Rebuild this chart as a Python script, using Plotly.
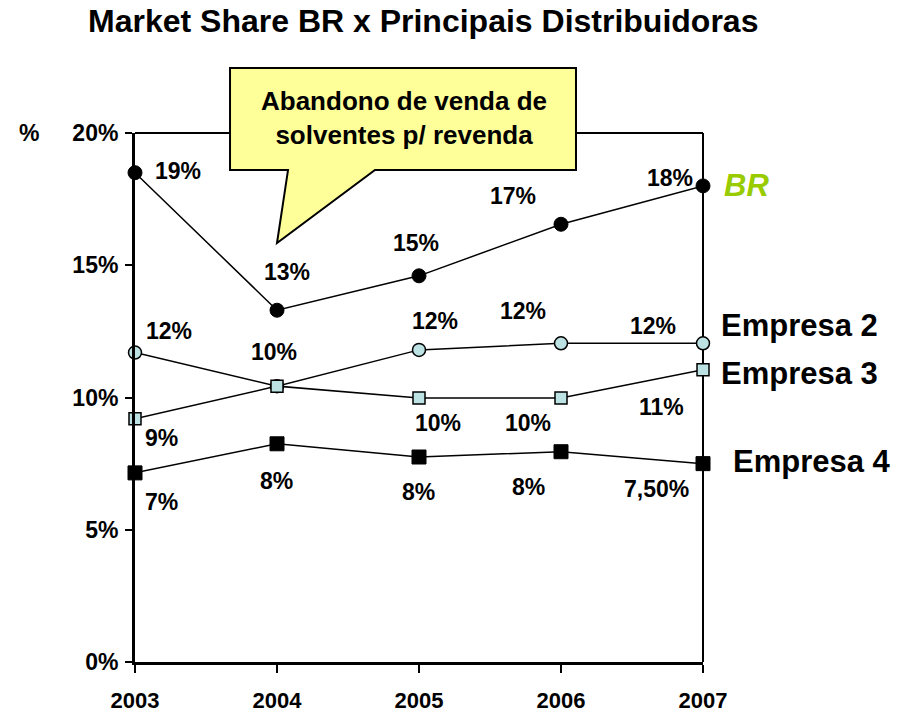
import plotly.graph_objects as go

# ---------------- data ----------------
years = [2003, 2004, 2005, 2006, 2007]
year_labels = ["2003", "2004", "2005", "2006", "2007"]

br = [18.5, 13.3, 14.6, 16.55, 18.0]
emp2 = [11.7, 10.43, 11.8, 12.05, 12.05]
emp3 = [9.2, 10.43, 9.98, 9.98, 11.05]
emp4 = [7.15, 8.25, 7.75, 7.95, 7.5]

br_labels = ["19%", "13%", "15%", "17%", "18%"]
emp2_labels = ["12%", "10%", "12%", "12%", "12%"]
emp3_labels = ["9%", "", "10%", "10%", "11%"]
emp4_labels = ["7%", "8%", "8%", "8%", "7,50%"]

y_ticks = [0, 5, 10, 15, 20]
y_tick_labels = ["0%", "5%", "10%", "15%", "20%"]

series_names = ["BR", "Empresa 2", "Empresa 3", "Empresa 4"]
title_text = "Market Share BR x Principais Distribuidoras"
callout_text = "Abandono de venda de<br>solventes p/ revenda"

# ---------------- style ----------------
FONT = "Liberation Sans, Arial, sans-serif"
LIGHT = "#BCE2E3"
GREEN = "#99CC00"
YELLOW = "#FFFF99"

# label offsets in pixels (dx right, dy down) relative to each point
offsets = {
    "BR": [(43, -2), (10, -38), (-3, -33), (-48, -28), (-33, -8)],
    "Empresa 2": [(34, -22), (-3, -34), (16, -29), (-38, -32), (-50, -17)],
    "Empresa 3": [(26, 19), (0, 0), (19, 25), (-33, 25), (-42, 37)],
    "Empresa 4": [(26, 29), (-1, 37), (-1, 35), (-33, 35), (-47, 25)],
}

fig = go.Figure()

line_style = dict(color="black", width=1.5)
fig.add_trace(go.Scatter(
    x=years, y=emp2, mode="lines+markers", name="Empresa 2", line=line_style,
    marker=dict(symbol="circle", size=13, color=LIGHT, line=dict(color="black", width=1.5)),
    cliponaxis=False, showlegend=False))
fig.add_trace(go.Scatter(
    x=years, y=emp3, mode="lines+markers", name="Empresa 3", line=line_style,
    marker=dict(symbol="square", size=12, color=LIGHT, line=dict(color="black", width=1.5)),
    cliponaxis=False, showlegend=False))
fig.add_trace(go.Scatter(
    x=years, y=emp4, mode="lines+markers", name="Empresa 4", line=line_style,
    marker=dict(symbol="square", size=14, color="black", line=dict(color="black", width=1)),
    cliponaxis=False, showlegend=False))
fig.add_trace(go.Scatter(
    x=years, y=br, mode="lines+markers", name="BR", line=line_style,
    marker=dict(symbol="circle", size=14, color="black", line=dict(color="black", width=1)),
    cliponaxis=False, showlegend=False))

annotations = []
lab_font = dict(family=FONT, size=23, color="black", weight="bold")
for name, vals, labs in [("BR", br, br_labels), ("Empresa 2", emp2, emp2_labels),
                         ("Empresa 3", emp3, emp3_labels), ("Empresa 4", emp4, emp4_labels)]:
    for i, (xv, yv, t) in enumerate(zip(years, vals, labs)):
        if not t:
            continue
        dx, dy = offsets[name][i]
        annotations.append(dict(x=xv, y=yv, xref="x", yref="y", text=t, showarrow=False,
                                xshift=dx, yshift=-dy, xanchor="center", yanchor="middle",
                                font=lab_font))

# series end labels
end_font = dict(family=FONT, size=31, color="black", weight="bold")
annotations.append(dict(x=years[-1], y=br[-1], text="<i>" + series_names[0] + "</i>", showarrow=False,
                        xanchor="left", yanchor="middle", xshift=19, yshift=0,
                        font=dict(family=FONT, size=31, color=GREEN, weight="bold")))
annotations.append(dict(x=years[-1], y=emp2[-1], text=series_names[1], showarrow=False,
                        xanchor="left", yanchor="middle", xshift=16, yshift=18, font=end_font))
annotations.append(dict(x=years[-1], y=emp3[-1], text=series_names[2], showarrow=False,
                        xanchor="left", yanchor="middle", xshift=16, yshift=-4, font=end_font))
annotations.append(dict(x=years[-1], y=emp4[-1], text=series_names[3], showarrow=False,
                        xanchor="left", yanchor="middle", xshift=28, yshift=2, font=end_font))

# title
annotations.append(dict(x=0.5079, y=1.2117, xref="paper", yref="paper", text=title_text,
                        showarrow=False, xanchor="center", yanchor="middle",
                        font=dict(family=FONT, size=32, color="black", weight="bold")))
# % unit
annotations.append(dict(x=-0.1866, y=1.0, xref="paper", yref="paper", text="%",
                        showarrow=False, xanchor="center", yanchor="middle",
                        font=dict(family=FONT, size=23, color="black", weight="bold")))
# callout text
annotations.append(dict(x=0.4736, y=1.0285, xref="paper", yref="paper", text=callout_text,
                        showarrow=False, xanchor="center", yanchor="middle", align="center",
                        font=dict(family=FONT, size=26, color="black", weight="bold")))

shapes = [
    # thin top and right borders of plot area
    dict(type="line", xref="paper", yref="paper", x0=0, x1=1, y0=1, y1=1,
         line=dict(color="black", width=2), layer="below"),
    dict(type="line", xref="paper", yref="paper", x0=1, x1=1, y0=0, y1=1,
         line=dict(color="black", width=2), layer="below"),
    # callout balloon
    dict(type="path", xref="paper", yref="paper",
         path="M 0.1673,1.1229 L 0.7764,1.1229 L 0.7764,0.930 L 0.4225,0.930 "
              "L 0.25,0.792 L 0.2694,0.930 L 0.1673,0.930 Z",
         fillcolor=YELLOW, line=dict(color="black", width=2), layer="above"),
]

fig.update_layout(
    width=901, height=712,
    margin=dict(l=135, r=198, t=133, b=50, autoexpand=False),
    paper_bgcolor="white", plot_bgcolor="white",
    showlegend=False,
    annotations=annotations,
    shapes=shapes,
    xaxis=dict(range=[2003, 2007], tickvals=years, ticktext=year_labels,
               showgrid=False, zeroline=False, showline=True, linecolor="black", linewidth=3,
               ticks="outside", ticklen=8, tickwidth=2, tickcolor="black",
               ticklabelstandoff=9, automargin=False,
               tickfont=dict(family=FONT, size=22, color="black", weight="bold")),
    yaxis=dict(range=[0, 20], tickvals=y_ticks, ticktext=y_tick_labels,
               showgrid=False, zeroline=False, showline=True, linecolor="black", linewidth=3,
               ticks="outside", ticklen=7, tickwidth=2, tickcolor="black",
               ticklabelstandoff=2, automargin=False,
               tickfont=dict(family=FONT, size=23, color="black", weight="bold")),
)

# remove the browser's default 8px page margin so the figure fills the window exactly
fig.write_html("out.html",
               config={"displayModeBar": False, "staticPlot": True},
               post_script="document.body.style.margin='0';document.body.style.overflow='hidden';")
